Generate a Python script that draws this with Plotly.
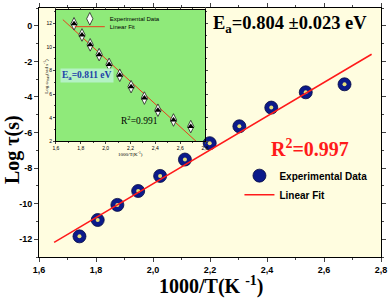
import plotly.graph_objects as go

# ---------------- data ----------------
main_x = [1.742, 1.806, 1.875, 1.948, 2.025, 2.112, 2.199, 2.303, 2.415, 2.536, 2.672]
main_y = [-11.84, -10.92, -10.07, -9.29, -8.44, -7.52, -6.60, -5.65, -4.60, -3.74, -3.29]
fit_x = [1.653, 2.767]
fit_y = [-12.18, -1.60]

ins_x = [1.746, 1.810, 1.876, 1.948, 2.028, 2.114, 2.205, 2.312, 2.421, 2.546, 2.685]
ins_y = [11.98, 11.03, 10.19, 9.36, 8.53, 7.61, 6.64, 5.67, 4.64, 3.81, 3.25]
ins_fit_x = [1.656, 2.728]
ins_fit_y = [12.33, 2.0]

x_ticks = [1.6, 1.8, 2.0, 2.2, 2.4, 2.6, 2.8]
x_ticktext = ["1,6", "1,8", "2,0", "2,2", "2,4", "2,6", "2,8"]
y_ticks = [-12, -10, -8, -6, -4, -2, 0]
y_ticktext = ["-12", "-10", "-8", "-6", "-4", "-2", "0"]
ins_y_ticks = [2, 4, 6, 8, 10, 12]
ins_y_ticktext = ["2", "4", "6", "8", "10", "12"]

SANS = "Arial, Roboto, Liberation Sans"
SERIF = "Liberation Serif"

fig = go.Figure()

# main traces
fig.add_trace(go.Scatter(x=main_x, y=main_y, mode="markers", name="Experimental Data",
                         marker=dict(size=13, color="#0B1A8A", line=dict(color="#050A40", width=0.8)),
                         legend="legend"))
fig.add_trace(go.Scatter(x=main_x, y=main_y, mode="markers", showlegend=False, hoverinfo="skip",
                         marker=dict(size=4, color="#E6E07A", line=dict(width=0))))
fig.add_trace(go.Scatter(x=fit_x, y=fit_y, mode="lines", name="Linear Fit",
                         line=dict(color="#FF1A1A", width=1.5), legend="legend"))

# inset traces
fig.add_trace(go.Scatter(x=ins_fit_x, y=ins_fit_y, mode="lines", name="Linear Fit",
                         xaxis="x2", yaxis="y2", line=dict(color="#E8401C", width=1), legend="legend3"))
fig.add_trace(go.Scatter(x=ins_x, y=ins_y, mode="markers", name="Experimental Data",
                         xaxis="x2", yaxis="y2",
                         marker=dict(symbol="diamond-tall", size=9, color="white",
                                     line=dict(color="#222222", width=0.8)), legend="legend2"))
fig.add_trace(go.Scatter(x=ins_x, y=ins_y, mode="markers", showlegend=False, hoverinfo="skip",
                         xaxis="x2", yaxis="y2",
                         marker=dict(symbol="triangle-up", size=6, color="black", line=dict(width=0))))

axis_common = dict(showgrid=False, zeroline=False, showline=True, linecolor="black", linewidth=1,
                   mirror="ticks")

fig.update_layout(
    width=390, height=299,
    margin=dict(l=39, r=7, t=3, b=42),
    paper_bgcolor="white",
    plot_bgcolor="rgba(0,0,0,0)",
    xaxis=dict(range=[1.6, 2.8], tickvals=x_ticks, ticktext=x_ticktext, ticks="outside", ticklen=4,
               tickfont=dict(family=SANS, size=9, color="black", weight="bold"),
               minor=dict(ticks="outside", ticklen=2, dtick=0.1, tick0=1.6), **axis_common),
    yaxis=dict(range=[-13, 1], tickvals=y_ticks, ticktext=y_ticktext, ticks="outside", ticklen=4,
               tickfont=dict(family=SANS, size=9, color="black", weight="bold"),
               minor=dict(ticks="outside", ticklen=2, dtick=1, tick0=0), **axis_common),
    xaxis2=dict(domain=[0.0494, 0.4855], anchor="y2", range=[1.6, 2.8], tickvals=x_ticks,
                ticktext=x_ticktext, ticks="outside", ticklen=2, mirror="ticks",
                tickfont=dict(family=SANS, size=5, color="black"),
                minor=dict(ticks="outside", ticklen=1, dtick=0.1, tick0=1.6),
                showgrid=False, zeroline=False, showline=True, linecolor="black", linewidth=0.8),
    yaxis2=dict(domain=[0.4646, 0.992], anchor="x2", range=[2, 13.15], tickvals=ins_y_ticks,
                ticktext=ins_y_ticktext, ticks="outside", ticklen=2, mirror="ticks",
                tickfont=dict(family=SANS, size=5, color="black"),
                minor=dict(ticks="outside", ticklen=1, dtick=1, tick0=2),
                showgrid=False, zeroline=False, showline=True, linecolor="black", linewidth=0.8),
    legend=dict(x=0.975, y=0.385, xanchor="right", yanchor="top", bgcolor="rgba(0,0,0,0)",
                font=dict(family=SANS, size=10, color="black", weight="bold"),
                itemwidth=30, tracegroupgap=0),
    legend2=dict(x=0.09, y=0.9567, xanchor="left", yanchor="middle", bgcolor="rgba(0,0,0,0)",
                 font=dict(family=SANS, size=6, color="black"), itemwidth=30),
    legend3=dict(x=0.09, y=0.925, xanchor="left", yanchor="middle", bgcolor="rgba(0,0,0,0)",
                 font=dict(family=SANS, size=6, color="black"), itemwidth=30),
    shapes=[
        dict(type="rect", xref="paper", yref="paper", x0=0, x1=1, y0=0, y1=1,
             fillcolor="#FFFDE0", line=dict(width=0), layer="below"),
        dict(type="rect", xref="x2 domain", yref="y2 domain", x0=0, x1=1, y0=0, y1=1,
             fillcolor="#8FEA7A", line=dict(width=0), layer="below"),
    ],
    annotations=[
        dict(text="Log τ(s)", textangle=-90, xref="paper", yref="paper", x=-0.0756, y=0.43,
             xanchor="center", yanchor="middle",
             showarrow=False, font=dict(family=SERIF, size=20, color="black", weight="bold")),
        dict(text="1000/T(K <sup>-1</sup>)", xref="paper", yref="paper", x=0.503, y=-0.114,
             xanchor="center", yanchor="middle",
             showarrow=False, font=dict(family=SERIF, size=20, color="black", weight="bold")),
        dict(text="E<sub>a</sub>=0.804 ±0.023 eV", xref="paper", yref="paper", x=0.735, y=0.935,
             xanchor="center", yanchor="middle",
             showarrow=False, font=dict(family=SERIF, size=18.5, color="black", weight="bold")),
        dict(text="R<sup>2</sup>=0.997", xref="paper", yref="paper", x=0.791, y=0.437,
             xanchor="center", yanchor="middle",
             showarrow=False, font=dict(family=SERIF, size=20, color="#FF1A1A", weight="bold")),
        dict(text="E<sub>a</sub>=0.811 eV", xref="x2", yref="y2", x=1.850, y=7.6,
             xanchor="center", yanchor="middle",
             showarrow=False, bgcolor="#B4F2C4",
             font=dict(family=SERIF, size=9.5, color="#2040A8", weight="bold")),
        dict(text="R<sup>2</sup>=0.991", xref="x2", yref="y2", x=2.269, y=3.8,
             xanchor="center", yanchor="middle",
             showarrow=False, font=dict(family=SERIF, size=9.5, color="black")),
        dict(text="1000/T(K<sup>-1</sup>)", xref="paper", yref="paper", x=0.2674, y=0.413,
             xanchor="center", yanchor="middle",
             showarrow=False, font=dict(family=SERIF, size=5, color="black")),
        dict(text="Log ω<sub>max</sub>(rad s<sup>-1</sup>)", textangle=-90, xref="paper", yref="paper",
             x=0.0233, y=0.728, xanchor="center", yanchor="middle",
             showarrow=False, font=dict(family=SERIF, size=5, color="black")),
    ],
)

fig.write_html("out.html", config={"displayModeBar": False},
               post_script="document.body.style.margin='0px';document.body.style.overflow='hidden';")
